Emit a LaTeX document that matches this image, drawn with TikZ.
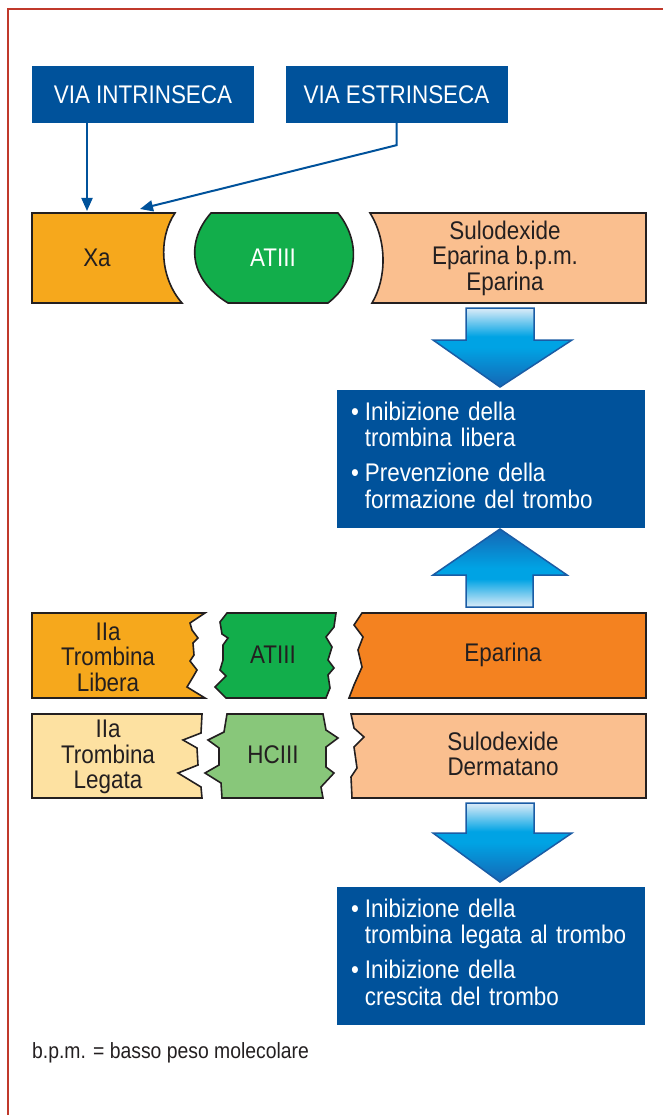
\documentclass[tikz,border=0pt]{standalone}
\usepackage{fontspec}
\setmainfont{Liberation Sans}[FakeStretch=0.88]
\usetikzlibrary{arrows.meta}
\definecolor{viablue}{HTML}{00529B}
\definecolor{xaorange}{HTML}{F6A81C}
\definecolor{atgreen}{HTML}{12AE4B}
\definecolor{hcgreen}{HTML}{88C77A}
\definecolor{peach}{HTML}{FABF8F}
\definecolor{epaorange}{HTML}{F48220}
\definecolor{legyellow}{HTML}{FDE1A1}
\definecolor{inkdark}{HTML}{231F20}
\definecolor{framered}{HTML}{C0392B}
\definecolor{arrlight}{HTML}{DDECF8}
\definecolor{arrmid}{HTML}{00A3E4}
\definecolor{arrdark}{HTML}{1566B4}
\definecolor{arrline}{HTML}{1A5CA5}
\pgfdeclareverticalshading{fatdown}{100bp}{color(0bp)=(arrdark); color(25bp)=(arrdark); color(50bp)=(arrmid); color(57bp)=(arrmid); color(75bp)=(arrlight); color(100bp)=(arrlight)}
\pgfdeclareverticalshading{fatup}{100bp}{color(0bp)=(arrlight); color(25bp)=(arrlight); color(43bp)=(arrmid); color(50bp)=(arrmid); color(75bp)=(arrdark); color(100bp)=(arrdark)}
\newcommand{\diagfont}{\fontsize{25.5}{25.5}\selectfont}
\newcommand{\bulletlist}[4]{\begin{tabular}{@{}l@{\hspace{6pt}}l@{}}\textbullet & #1\\ & #2\\[9pt]\textbullet & #3\\ & #4\end{tabular}}

\begin{document}
\begin{tikzpicture}[x=1pt,y=-1pt,
  viabox/.style={fill=viablue,text=white,font=\diagfont,minimum width=222pt,minimum height=57pt,inner sep=0pt},
  piece/.style={draw=inkdark,line width=1.6pt},
  lab/.style={text=inkdark,font=\diagfont,align=center,inner sep=0pt},
  resbox/.style={fill=viablue,text=white,font=\diagfont,text width=280pt,inner xsep=14pt,inner ysep=0pt,minimum height=138pt,align=left},
  fat/.style={draw=arrline,line width=1.5pt},
  via/.style={draw=viablue,line width=2pt,-{Triangle[length=13pt,width=11pt]}}]
\useasboundingbox (0,0) rectangle (663,1115);
\draw[framered, line width=1.5pt] (8,1115) -- (8,9) -- (663,9);

\node[viabox] (intr) at (143,94.5) {VIA INTRINSECA};
\node[viabox] (estr) at (396.5,94.5) {VIA ESTRINSECA};
\coordinate (xaA) at (87,211);
\coordinate (xaB) at (140,209);
\draw[via] (intr.south -| xaA) -- (xaA);
\draw[via] (estr.south) -- ++(0,22) -- (xaB);

\filldraw[piece,fill=xaorange] (32,213) -- (175,213) .. controls (158,238) and (160,278) .. (182,303) -- (32,303) -- cycle;
\filldraw[piece,fill=atgreen] (211,213) -- (338,213) .. controls (360,240) and (360,278) .. (328,303) -- (228,303) .. controls (187,278) and (187,240) .. (211,213) -- cycle;
\filldraw[piece,fill=peach] (370,213) -- (646,213) -- (646,303) -- (372,303) .. controls (387,278) and (387,240) .. (370,213) -- cycle;
\node[lab] (xa) at (97,258) {Xa};
\node[lab,text=white] (at1) at (273,258) {ATIII};
\node[lab] (sulo1) at (505,258) {Sulodexide\\Eparina b.p.m.\\Eparina};

\shadedraw[fat,shading=fatdown] (466,308) -- (534,308) -- (534,340) -- (572,340) -- (500,387) -- (433,340) -- (466,340) -- cycle;
\node[resbox] (res1) at (491,459) {\bulletlist{Inibizione della}{trombina libera}{Prevenzione della}{formazione del trombo}};
\shadedraw[fat,shading=fatup] (500,529) -- (567,575) -- (533,575) -- (533,607) -- (466,607) -- (466,575) -- (433,575) -- cycle;

\filldraw[piece,fill=xaorange] (32,613) -- (205,613) -- (190,623) -- (192,630) -- (198,638) -- (193,643) -- (194,655) -- (190,661) -- (197,670) -- (193,677) -- (187,687) -- (205,698) -- (32,698) -- cycle;
\filldraw[piece,fill=atgreen] (227,613) -- (336,613) -- (334,627) -- (326,637) -- (332,647) -- (328,660) -- (334,668) -- (328,675) -- (330,688) -- (326,698) -- (226,698) -- (215,687) -- (226,676) -- (220,670) -- (223,660) -- (223,645) -- (228,638) -- (222,634) -- (220,622) -- cycle;
\filldraw[piece,fill=epaorange] (362,613) -- (646,613) -- (646,698) -- (349,698) -- (354,685) -- (362,667) -- (358,650) -- (363,637) -- (354,625) -- cycle;
\node[lab] (libera) at (108,657) {IIa\\Trombina\\Libera};
\node[lab] (at2) at (273,655) {ATIII};
\node[lab] (epar) at (503,655) {Eparina};

\filldraw[piece,fill=legyellow] (32,714) -- (202,714) -- (201,733) -- (183,740) -- (197,748) -- (198,765) -- (178,773) -- (201,787) -- (202,798) -- (32,798) -- cycle;
\filldraw[piece,fill=hcgreen] (227,714) -- (323,714) -- (326,730) -- (338,738) -- (326,747) -- (326,767) -- (334,773) -- (321,787) -- (323,798) -- (222,798) -- (221,783) -- (205,773) -- (219,765) -- (219,748) -- (208,740) -- (224,732) -- cycle;
\filldraw[piece,fill=peach] (351,714) -- (646,714) -- (646,798) -- (352,798) -- (351,777) -- (357,768) -- (354,747) -- (364,737) -- (354,728) -- cycle;
\node[lab] (legata) at (108,757) {IIa\\Trombina\\Legata};
\node[lab] (hc) at (273,755) {HCIII};
\node[lab] (sulo2) at (503,754) {Sulodexide\\Dermatano};

\shadedraw[fat,shading=fatdown] (466,803) -- (534,803) -- (534,833) -- (572,833) -- (500,882) -- (433,833) -- (466,833) -- cycle;
\node[resbox] (res2) at (491,956) {\bulletlist{Inibizione della}{trombina legata al trombo}{Inibizione della}{crescita del trombo}};

\node[text=inkdark,font=\fontsize{22}{22}\selectfont,anchor=base west,inner sep=0pt] (note) at (32,1058) {b.p.m. = basso peso molecolare};
\end{tikzpicture}
\end{document}
